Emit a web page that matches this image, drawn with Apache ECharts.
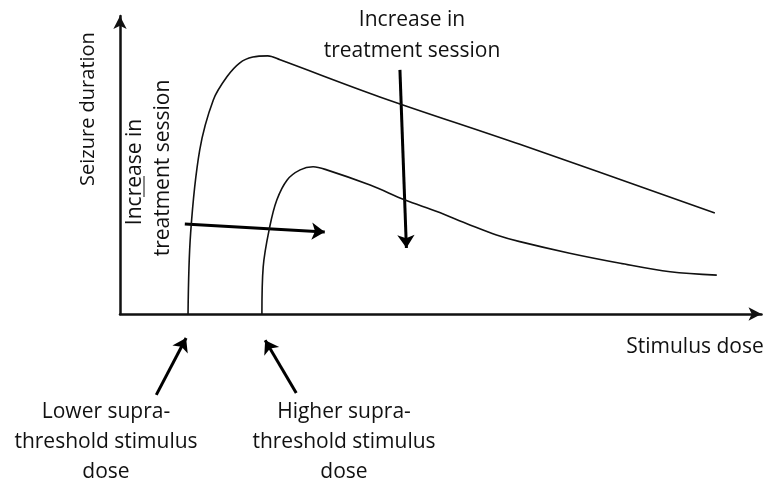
<!DOCTYPE html>
<html>
<head>
<meta charset="utf-8">
<script src="https://cdn.jsdelivr.net/npm/echarts@6/dist/echarts.min.js"></script>
<style>
  html, body { margin: 0; padding: 0; background: #fff; }
  #main { width: 773px; height: 483px; }
</style>
</head>
<body>
<div id="main"></div>
<script>
// schematic units: dose 0..99, duration 0..98
var lowerDoseCurve = [
  [10.5, 0], [10.9, 26.6], [12.3, 53.9], [14.4, 70.4], [16.5, 78.0], [18.5, 82.6],
  [20.5, 84.5], [22.8, 84.9], [24.7, 83.6], [40.1, 71.4], [61.7, 55.8], [91.8, 33.2]
];
var higherDoseCurve = [
  [21.9, 0], [22.1, 15.5], [23.1, 28.6], [24.2, 37.5], [25.8, 44.1], [27.8, 47.4],
  [29.8, 48.4], [31.9, 47.4], [38.6, 42.4], [44.0, 37.5], [48.9, 33.7], [54.0, 29.3],
  [58.1, 26.0], [61.7, 23.8], [69.4, 20.0], [77.2, 16.7], [84.9, 13.9], [92.1, 12.8]
];
// arrows as [from, to]
var arrows = [
  [[10.0, 29.6], [31.6, 27.0]],
  [[43.2, 80.3], [44.2, 21.7]],
  [[5.6, -26.6], [10.2, -7.9]],
  [[27.2, -26.0], [22.4, -8.6]]
];
var axisNames = ['Stimulus dose', 'Seizure duration'];
var topNote = ['Increase in', 'treatment session'];
var sideNote = ['Increase in', 'treatment session'];
var lowerNote = ['Lower supra-', 'threshold stimulus', 'dose'];
var higherNote = ['Higher supra-', 'threshold stimulus', 'dose'];

var font = 'Open Sans';
var fs = 21;

var chart = echarts.init(document.getElementById('main'));

function txt(x, y, s, rot, size) {
  return {
    type: 'text', x: x, y: y, rotation: rot || 0,
    style: { text: s, fill: '#111', font: (size || fs) + 'px "' + font + '"', align: 'center', verticalAlign: 'middle' }
  };
}

var graphics = [
  txt(88, 109, axisNames[1], Math.PI / 2, 20),
  txt(695, 347, axisNames[0]),
  txt(412, 20, topNote[0]),
  txt(412, 51, topNote[1]),
  txt(135, 172, sideNote[0], Math.PI / 2),
  txt(163, 168, sideNote[1], Math.PI / 2),
  // underline under "re"
  { type: 'line', shape: { x1: 144, y1: 176, x2: 144, y2: 197 }, style: { stroke: '#111', lineWidth: 1 } }
];
lowerNote.forEach(function (s, i) { graphics.push(txt(106, 412 + i * 30, s)); });
higherNote.forEach(function (s, i) { graphics.push(txt(344, 412 + i * 30, s)); });

var option = {
  animation: false,
  backgroundColor: '#fff',
  grid: { left: 120, right: 11.5, top: 16, bottom: 169 },
  xAxis: {
    type: 'value', min: 0, max: 99,
    axisLine: { lineStyle: { color: '#111', width: 2.5 }, symbol: ['none', 'arrow'], symbolSize: [10, 13] },
    axisTick: { show: false }, axisLabel: { show: false }, splitLine: { show: false }
  },
  yAxis: {
    type: 'value', min: 0, max: 98,
    axisLine: { show: true, lineStyle: { color: '#111', width: 2.5 }, symbol: ['none', 'arrow'], symbolSize: [10, 13] },
    axisTick: { show: false }, axisLabel: { show: false }, splitLine: { show: false }
  },
  graphic: graphics,
  series: [
    {
      type: 'line', data: lowerDoseCurve, smooth: 0.35, showSymbol: false,
      lineStyle: { color: '#111', width: 1.6 }
    },
    {
      type: 'line', data: higherDoseCurve, smooth: 0.35, showSymbol: false,
      lineStyle: { color: '#111', width: 1.6 }
    },
    {
      type: 'lines', coordinateSystem: 'cartesian2d', clip: false,
      symbol: ['none', 'arrow'], symbolSize: 13,
      lineStyle: { color: '#000', width: 3, opacity: 1 },
      data: arrows.map(function (a) { return { coords: a }; })
    }
  ]
};
chart.setOption(option);
</script>
</body>
</html>
